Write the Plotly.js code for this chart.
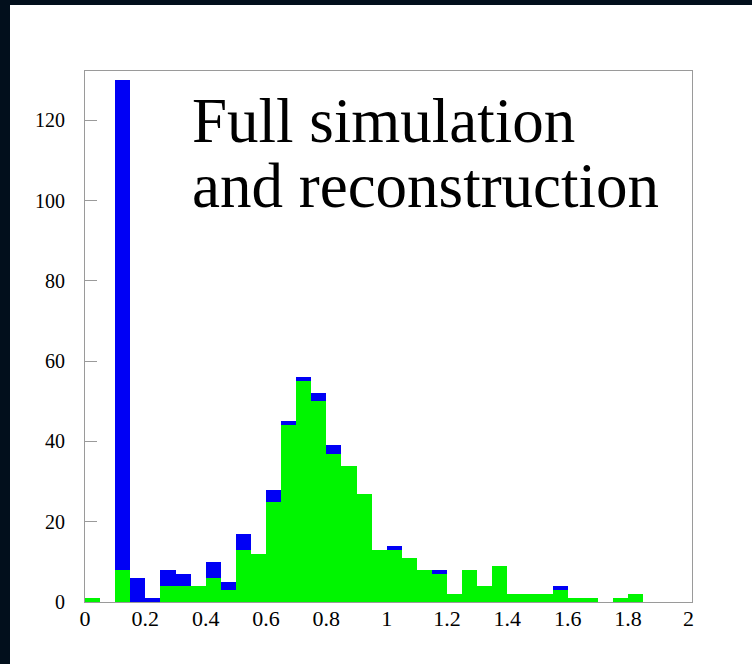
<!DOCTYPE html>
<html>
<head>
<meta charset="utf-8">
<script src="https://cdn.plot.ly/plotly-3.0.1.min.js"></script>
<style>
  html, body { margin: 0; padding: 0; background: #020f1c; width: 752px; height: 664px; overflow: hidden; }
  #chart { position: absolute; left: 10px; top: 5px; width: 742px; height: 659px; background: #ffffff; }
</style>
</head>
<body>
<div id="chart"></div>
<script>
// Lower edges of the 0.05-wide bins
const binLow = [0.00,0.05,0.10,0.15,0.20,0.25,0.30,0.35,0.40,0.45,
                0.50,0.55,0.60,0.65,0.70,0.75,0.80,0.85,0.90,0.95,
                1.00,1.05,1.10,1.15,1.20,1.25,1.30,1.35,1.40,1.45,
                1.50,1.55,1.60,1.65,1.70,1.75,1.80,1.85,1.90,1.95];
const binWidth = 0.05;
// All entries (blue)
const totalCounts = [1,0,130,6,1,8,7,4,10,5,
                     17,12,28,45,56,52,39,34,27,13,
                     14,11,8,8,2,8,4,9,2,2,
                     2,4,1,1,0,1,2,0,0,0];
// Selected subset (green)
const greenCounts = [1,0,8,0,0,4,4,4,6,3,
                     13,12,25,44,55,50,37,34,27,13,
                     13,11,8,7,2,8,4,9,2,2,
                     2,3,1,1,0,1,2,0,0,0];
const yTicks = [0,20,40,60,80,100,120];
const xTicks = [0,0.2,0.4,0.6,0.8,1,1.2,1.4,1.6,1.8,2];
const xTickText = ['0','0.2','0.4','0.6','0.8','1','1.2','1.4','1.6','1.8','2'];
const textLines = ['Full simulation', 'and reconstruction'];

const serif = 'Liberation Serif, Times New Roman, serif';

const traces = [
  { type: 'bar', x: binLow, y: totalCounts, width: binWidth, offset: 0,
    marker: { color: '#0000f5', line: { width: 0 } }, hoverinfo: 'x+y' },
  { type: 'bar', x: binLow, y: greenCounts, width: binWidth, offset: 0,
    marker: { color: '#00f500', line: { width: 0 } }, hoverinfo: 'x+y' }
];

const layout = {
  width: 742, height: 659,
  margin: { l: 75, r: 60, t: 66, b: 62 },
  paper_bgcolor: '#ffffff', plot_bgcolor: '#ffffff',
  barmode: 'overlay', bargap: 0, showlegend: false,
  xaxis: {
    range: [0, 2.012], showgrid: false, zeroline: false,
    showline: true, linecolor: '#9a9a9a', linewidth: 1, mirror: true,
    tickmode: 'array', tickvals: xTicks, ticktext: xTickText,
    ticks: '', ticklabelstandoff: -3,
    tickfont: { family: serif, size: 22, color: '#000' }
  },
  yaxis: {
    range: [0, 132.3], showgrid: false, zeroline: false,
    showline: true, linecolor: '#9a9a9a', linewidth: 1, mirror: true,
    tickmode: 'array', tickvals: yTicks,
    ticks: 'inside', ticklen: 12, tickcolor: '#9a9a9a', tickwidth: 1,
    ticklabelstandoff: 15,
    tickfont: { family: serif, size: 20, color: '#000' }
  },
  annotations: [
    { text: textLines[0], xref: 'x', yref: 'y', x: 0.348, y: 119.8,
      xanchor: 'left', yanchor: 'middle', showarrow: false,
      font: { family: serif, size: 63, color: '#000' } },
    { text: textLines[1], xref: 'x', yref: 'y', x: 0.348, y: 103.6,
      xanchor: 'left', yanchor: 'middle', showarrow: false,
      font: { family: serif, size: 63, color: '#000' } }
  ]
};

Plotly.newPlot('chart', traces, layout, { displayModeBar: false, staticPlot: true });
</script>
</body>
</html>
